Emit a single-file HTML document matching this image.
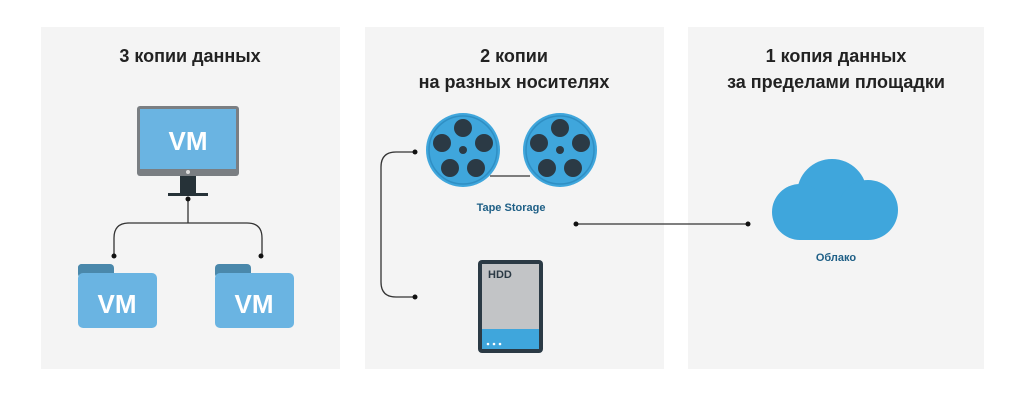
<!DOCTYPE html>
<html><head><meta charset="utf-8"><style>
html,body{margin:0;padding:0;background:#fff;}
svg{display:block}
text{font-family:"Liberation Sans","DejaVu Sans",sans-serif;font-weight:bold}
</style></head><body>
<svg width="1024" height="401" viewBox="0 0 1024 401" xmlns="http://www.w3.org/2000/svg">
<rect x="41" y="27" width="299" height="342" fill="#f4f4f4"/>
<rect x="365" y="27" width="299" height="342" fill="#f4f4f4"/>
<rect x="688" y="27" width="296" height="342" fill="#f4f4f4"/>
<g font-size="18" fill="#222" text-anchor="middle">
<text x="190" y="62">3 копии данных</text>
<text x="514" y="62">2 копии</text>
<text x="514" y="88">на разных носителях</text>
<text x="836" y="62">1 копия данных</text>
<text x="836" y="88">за пределами площадки</text>
</g>
<!-- monitor -->
<rect x="137" y="106" width="102" height="70" rx="3" fill="#7a7e82"/>
<rect x="140" y="109" width="96" height="60" fill="#6ab4e2"/>
<circle cx="188" cy="172" r="2" fill="#ddd"/>
<rect x="180" y="176" width="16" height="17" fill="#263238"/>
<rect x="168" y="193" width="40" height="3" fill="#263238"/>
<text x="188" y="150" font-size="26" fill="#fff" text-anchor="middle">VM</text>
<g stroke="#333" stroke-width="1.3" fill="none">
<path d="M188 198 V223"/>
<path d="M114 256 V238 Q114 223 129 223 H247 Q262 223 262 238 V256"/>
<path d="M415 152 H396 Q381 152 381 167 V282 Q381 297 396 297 H415"/>
<path d="M576 224 H748"/>
</g>
<g fill="#111"><circle cx="188" cy="199" r="2.5"/><circle cx="114" cy="256" r="2.5"/><circle cx="261" cy="256" r="2.5"/>
<circle cx="415" cy="152" r="2.5"/><circle cx="415" cy="297" r="2.5"/><circle cx="576" cy="224" r="2.5"/><circle cx="748" cy="224" r="2.5"/></g>
<!-- folders -->
<g>
<path d="M78 268 Q78 264 82 264 H110 L114 270 H110 Z" fill="#4a88ab"/>
<rect x="78" y="264" width="36" height="14" rx="4" fill="#4a88ab"/>
<rect x="78" y="273" width="79" height="55" rx="5" fill="#6ab4e2"/>
<text x="117" y="313" font-size="26" fill="#fff" text-anchor="middle">VM</text>
<rect x="215" y="264" width="36" height="14" rx="4" fill="#4a88ab"/>
<rect x="215" y="273" width="79" height="55" rx="5" fill="#6ab4e2"/>
<text x="254" y="313" font-size="26" fill="#fff" text-anchor="middle">VM</text>
</g>
<!-- reels -->
<line x1="490" y1="176" x2="530" y2="176" stroke="#555" stroke-width="1.5"/>
<g id="reel">
<circle cx="463" cy="150" r="37" fill="#3fa6dc"/>
<circle cx="463" cy="150" r="34" fill="none" stroke="#2f8fc4" stroke-width="1.5"/>
<g fill="#2b3a45">
<circle cx="463" cy="128" r="9"/><circle cx="484" cy="143" r="9"/><circle cx="476" cy="168" r="9"/>
<circle cx="450" cy="168" r="9"/><circle cx="442" cy="143" r="9"/>
<circle cx="463" cy="150" r="4"/></g>
</g>
<use href="#reel" x="97"/>
<text x="511" y="211" font-size="11" fill="#1e5f86" text-anchor="middle">Tape Storage</text>
<!-- HDD -->
<rect x="478" y="260" width="65" height="93" rx="4" fill="#2b3a45"/>
<rect x="482" y="264" width="57" height="65" fill="#c2c4c6"/>
<rect x="482" y="329" width="57" height="20" fill="#3fa6dc"/>
<text x="488" y="278" font-size="11" fill="#2b3a45">HDD</text>
<g fill="#fff"><circle cx="488" cy="344" r="1.3"/><circle cx="494" cy="344" r="1.3"/><circle cx="500" cy="344" r="1.3"/></g>
<!-- cloud -->
<g fill="#3fa6dc">
<circle cx="832" cy="194" r="35"/>
<circle cx="800" cy="212" r="28"/>
<circle cx="868" cy="210" r="30"/>
<rect x="800" y="200" width="68" height="40"/>
</g>
<text x="836" y="261" font-size="11" fill="#1e5f86" text-anchor="middle">Облако</text>
</svg>
</body></html>
